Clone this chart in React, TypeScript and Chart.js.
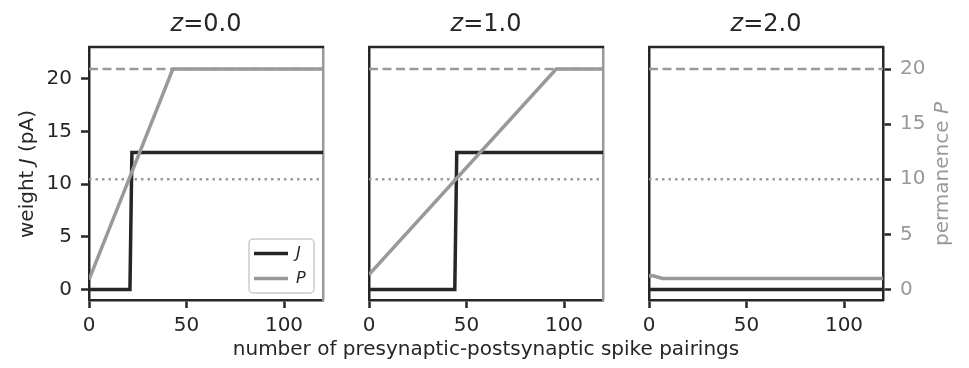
import React, { useEffect, useRef } from 'react';
import { Chart, registerables } from 'chart.js';

Chart.register(...registerables);

// ---- data ----
const xTicks = [0, 50, 100];
const yTicks = [0, 5, 10, 15, 20];
const zValues = ['0.0', '1.0', '2.0'];

const j1X = [0, 21, 22, 120];
const j1Y = [0, 0, 13, 13];
const p1X = [0, 43, 120];
const p1Y = [0.9, 20, 20];

const j2X = [0, 44, 45, 120];
const j2Y = [0, 0, 13, 13];
const p2X = [0, 96, 120];
const p2Y = [1.35, 20, 20];

const j3X = [0, 120];
const j3Y = [0, 0];
const p3X = [0, 2, 7, 120];
const p3Y = [1.25, 1.25, 1.0, 1.0];

const pMax = 20;
const pThreshold = 10;
const xRange = [0, 120];
const jRange = [-1, 23];
const pRange = [-0.95, 22];

const panelData = [
  { jX: j1X, jY: j1Y, pX: p1X, pY: p1Y },
  { jX: j2X, jY: j2Y, pX: p2X, pY: p2Y },
  { jX: j3X, jY: j3Y, pX: p3X, pY: p3Y },
];

// ---- style ----
const INK = '#262626';
const GRAY = '#999999';
const FONT = "'DejaVu Sans', sans-serif";
const PLOT_W = 234;
const PAD = 60;
const CANVAS_W = PLOT_W + 2 * PAD;
const CANVAS_H = 340;
const TOP = 47;
const BOTTOM_H = 40;
const plotLefts = [89, 369, 649];
const SPINE = 2.5;

const pts = (xs: number[], ys: number[]) => xs.map((x, i) => ({ x, y: ys[i] }));

const framePlugin = {
  id: 'topFrame',
  afterDatasetsDraw(chart: any) {
    const { ctx, chartArea } = chart;
    ctx.save();
    ctx.strokeStyle = INK;
    ctx.lineWidth = SPINE;
    ctx.beginPath();
    ctx.moveTo(chartArea.left - 1, chartArea.top);
    ctx.lineTo(chartArea.right + 1, chartArea.top);
    ctx.stroke();
    ctx.restore();
  },
};

const legendPlugin = {
  id: 'innerLegend',
  afterDatasetsDraw(chart: any) {
    const { ctx, chartArea } = chart;
    const items = [chart.data.datasets[1], chart.data.datasets[0]];
    const w = 65, h = 54;
    const x0 = chartArea.right - 9 - w;
    const y0 = chartArea.bottom - 7 - h;
    ctx.save();
    ctx.fillStyle = 'rgba(255,255,255,0.85)';
    ctx.strokeStyle = '#cccccc';
    ctx.lineWidth = 1.5;
    ctx.beginPath();
    if (ctx.roundRect) ctx.roundRect(x0, y0, w, h, 4);
    else ctx.rect(x0, y0, w, h);
    ctx.fill();
    ctx.stroke();
    items.forEach((ds: any, i: number) => {
      const y = y0 + 14.5 + i * 25;
      ctx.strokeStyle = ds.borderColor;
      ctx.lineWidth = 3.5;
      ctx.beginPath();
      ctx.moveTo(x0 + 5, y);
      ctx.lineTo(x0 + 39, y);
      ctx.stroke();
      ctx.fillStyle = INK;
      ctx.font = `italic 16px ${FONT}`;
      ctx.textBaseline = 'middle';
      ctx.fillText(ds.label, x0 + 47, y);
    });
    ctx.restore();
  },
};

function Panel({ index }: { index: number }) {
  const ref = useRef<HTMLCanvasElement>(null);
  useEffect(() => {
    const d = panelData[index];
    const tickFont = { family: FONT, size: 20 };
    const chart = new Chart(ref.current as HTMLCanvasElement, {
      type: 'line',
      data: {
        datasets: [
          { label: 'P', data: pts(d.pX, d.pY), yAxisID: 'yP', borderColor: GRAY, borderWidth: 3.5, order: 0 },
          { label: 'J', data: pts(d.jX, d.jY), yAxisID: 'yJ', borderColor: INK, borderWidth: 3.5, order: 1 },
          { label: 'Pmax', data: pts(xRange, [pMax, pMax]), yAxisID: 'yP', borderColor: GRAY, borderWidth: 2.5, borderDash: [9, 4.5], order: 2 },
          { label: 'threshold', data: pts(xRange, [pThreshold, pThreshold]), yAxisID: 'yP', borderColor: GRAY, borderWidth: 2.5, borderDash: [2.5, 4], order: 2 },
        ] as any,
      },
      options: {
        animation: false,
        responsive: false,
        devicePixelRatio: 1,
        elements: { point: { radius: 0 }, line: { tension: 0, fill: false } },
        layout: { padding: { top: TOP, left: 0, right: 0, bottom: 0 } },
        plugins: { legend: { display: false }, tooltip: { enabled: false }, title: { display: false } },
        scales: {
          x: {
            type: 'linear',
            min: xRange[0],
            max: xRange[1],
            afterBuildTicks: (s: any) => { s.ticks = xTicks.map((v) => ({ value: v })); },
            afterFit: (s: any) => { s.height = BOTTOM_H; },
            ticks: { font: tickFont, color: INK, padding: 6, maxRotation: 0, autoSkip: false },
            grid: { drawOnChartArea: false, drawTicks: true, tickLength: 8, tickWidth: SPINE, tickColor: INK },
            border: { display: true, color: INK, width: SPINE },
          },
          yJ: {
            type: 'linear',
            position: 'left',
            min: jRange[0],
            max: jRange[1],
            afterBuildTicks: (s: any) => { s.ticks = yTicks.map((v) => ({ value: v })); },
            afterFit: (s: any) => { s.width = PAD; },
            ticks: { display: index === 0, font: tickFont, color: INK, padding: 9, autoSkip: false },
            grid: { drawOnChartArea: false, drawTicks: index === 0, tickLength: 8, tickWidth: SPINE, tickColor: INK },
            border: { display: true, color: INK, width: SPINE },
          },
          yP: {
            type: 'linear',
            position: 'right',
            min: pRange[0],
            max: pRange[1],
            afterBuildTicks: (s: any) => { s.ticks = yTicks.map((v) => ({ value: v })); },
            afterFit: (s: any) => { s.width = PAD; },
            ticks: { display: index === 2, font: tickFont, color: GRAY, padding: 9, autoSkip: false },
            grid: { drawOnChartArea: false, drawTicks: index === 2, tickLength: 8, tickWidth: SPINE, tickColor: INK },
            border: { display: true, color: index === 2 ? INK : GRAY, width: SPINE },
          },
        },
      } as any,
      plugins: index === 0 ? [framePlugin, legendPlugin] : [framePlugin],
    });
    return () => chart.destroy();
  }, [index]);
  return (
    <canvas
      ref={ref}
      width={CANVAS_W}
      height={CANVAS_H}
      style={{ position: 'absolute', left: plotLefts[index] - PAD, top: 0, width: CANVAS_W, height: CANVAS_H }}
    />
  );
}

export default function App() {
  const text: React.CSSProperties = { position: 'absolute', fontFamily: FONT, color: INK, whiteSpace: 'nowrap' };
  return (
    <div style={{ position: 'absolute', left: 0, top: 0, width: 969, height: 368, background: '#ffffff', overflow: 'hidden' }}>
      {[0, 1, 2].map((i) => (
        <Panel key={i} index={i} />
      ))}
      {zValues.map((z, i) => (
        <div key={z} style={{ ...text, left: plotLefts[i], width: PLOT_W, top: 11, textAlign: 'center', fontSize: 24, lineHeight: '24px' }}>
          <i>z</i>={z}
        </div>
      ))}
      <div style={{ ...text, left: 26 - 100, top: 174 - 10, width: 200, textAlign: 'center', fontSize: 20, lineHeight: '20px', transform: 'rotate(-90deg)' }}>
        weight <i>J</i> (pA)
      </div>
      <div style={{ ...text, color: GRAY, left: 941 - 100, top: 174 - 10, width: 200, textAlign: 'center', fontSize: 20, lineHeight: '20px', transform: 'rotate(-90deg)' }}>
        permanence <i>P</i>
      </div>
      <div style={{ ...text, left: plotLefts[0], width: plotLefts[2] + PLOT_W - plotLefts[0], top: 338, textAlign: 'center', fontSize: 20, lineHeight: '20px' }}>
        number of presynaptic-postsynaptic spike pairings
      </div>
    </div>
  );
}
